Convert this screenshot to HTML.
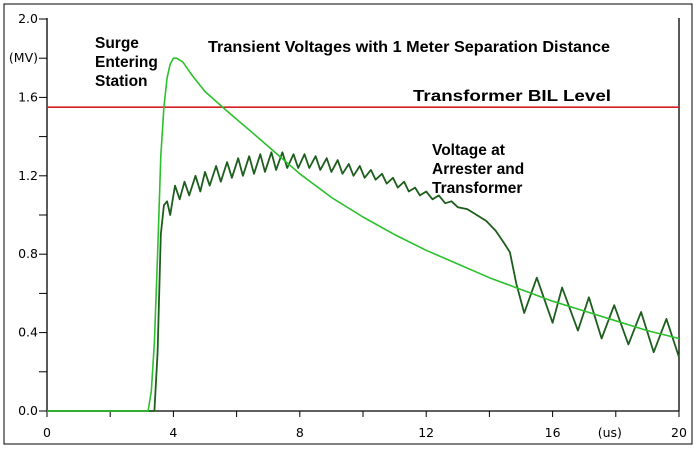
<!DOCTYPE html>
<html><head><meta charset="utf-8"><style>
body{margin:0;background:#fff;width:696px;height:449px;overflow:hidden}
svg{display:block}
.lb{font-family:"Liberation Sans",Arial,sans-serif;font-weight:bold;font-size:15.5px;fill:#000}
.tk{font-family:"DejaVu Sans",sans-serif;font-size:12.5px;fill:#000}
</style></head><body>
<svg id="chart" width="696" height="449">
<rect x="4" y="4" width="688" height="440" fill="none" stroke="#000" stroke-width="1"/>
<g id="axes"></g>
<g id="series"></g>
<text class="lb" x="95" y="48"><tspan x="95">Surge</tspan><tspan x="95" dy="19">Entering</tspan><tspan x="95" dy="19">Station</tspan></text>
<text class="lb" x="208" y="52" textLength="402" lengthAdjust="spacingAndGlyphs">Transient Voltages with 1 Meter Separation Distance</text>
<text class="lb" x="413" y="101" textLength="198" lengthAdjust="spacingAndGlyphs">Transformer BIL Level</text>
<text class="lb" x="432" y="155"><tspan x="432">Voltage at</tspan><tspan x="432" dy="19">Arrester and</tspan><tspan x="432" dy="19">Transformer</tspan></text>
</svg>
<script>
const xTicks=[0,2,4,6,8,10,12,14,16,18,20];
const xTickLabels=["0","","4","","8","","12","","16","(us)","20"];
const yTicks=[0,0.2,0.4,0.6,0.8,1.0,1.2,1.4,1.6,1.8,2.0];
const yTickLabels=["0.0","","0.4","","0.8","","1.2","","1.6","(MV)","2.0"];
const bilLevel=1.55;
const surgeT=[0,3.2,3.3,3.4,3.5,3.6,3.7,3.8,3.9,4.0,4.1,4.3,4.6,5.0,5.7,6.5,7.5,8,9,10,11,12,13,14,15,16,17,18,19,20];
const surgeV=[0,0,0.1,0.35,0.8,1.3,1.55,1.7,1.77,1.8,1.8,1.78,1.71,1.63,1.53,1.42,1.28,1.21,1.09,0.99,0.9,0.82,0.75,0.68,0.62,0.56,0.51,0.46,0.41,0.37];
const arrT=[0,3.4,3.5,3.6,3.7,3.8,3.9,4.05,4.2,4.35,4.5,4.7,4.85,5.0,5.15,5.35,5.5,5.7,5.85,6.05,6.2,6.4,6.55,6.75,6.9,7.1,7.25,7.45,7.6,7.8,7.95,8.15,8.3,8.5,8.65,8.85,9.0,9.2,9.35,9.55,9.7,9.9,10.05,10.25,10.4,10.6,10.75,10.95,11.1,11.3,11.45,11.65,11.8,12.0,12.2,12.4,12.6,12.8,13.0,13.3,13.6,13.9,14.2,14.45,14.65,14.85,15.1,15.5,16.0,16.3,16.8,17.15,17.55,17.95,18.4,18.8,19.2,19.6,20];
const arrV=[0,0,0.3,0.9,1.05,1.07,1.0,1.15,1.08,1.17,1.1,1.2,1.12,1.22,1.15,1.25,1.17,1.27,1.19,1.29,1.2,1.3,1.21,1.31,1.22,1.32,1.23,1.32,1.24,1.31,1.24,1.31,1.24,1.3,1.23,1.29,1.22,1.28,1.21,1.26,1.2,1.25,1.19,1.23,1.18,1.21,1.16,1.19,1.14,1.17,1.12,1.14,1.1,1.12,1.08,1.1,1.06,1.07,1.04,1.03,1.0,0.97,0.92,0.86,0.81,0.65,0.5,0.68,0.45,0.63,0.41,0.58,0.37,0.54,0.34,0.505,0.3,0.47,0.275];
const X0=47,X1=679,Y0=411,Y1=19;
const sx=t=>X0+(t-0)/(20-0)*(X1-X0);
const sy=v=>Y0-(v-0)/(2-0)*(Y0-Y1);
const NS="http://www.w3.org/2000/svg";
const ax=document.getElementById('axes'),se=document.getElementById('series');
function mk(tag,attrs,parent){const e=document.createElementNS(NS,tag);for(const k in attrs)e.setAttribute(k,attrs[k]);parent.appendChild(e);return e;}
let e=mk('line',{x1:X0,y1:Y1-1,x2:X0,y2:Y0,stroke:'#000','stroke-width':1.3},ax);


e=mk('line',{x1:X0,y1:Y0,x2:X1,y2:Y0,stroke:'#000','stroke-width':1.3},ax);


e=mk('line',{x1:X1,y1:Y1-1,x2:X1,y2:Y0,stroke:'#000','stroke-width':1.3},ax);


yTicks.forEach((v,i)=>{
 const t=mk('line',{x1:X0-8,y1:sy(v),x2:X0,y2:sy(v),stroke:'#000'},ax);
 
 
 if(yTickLabels[i]){const l=mk('text',{x:X0-9,y:sy(v)+4,'text-anchor':'end',class:'tk'},ax);l.textContent=yTickLabels[i];
 
 }
});
xTicks.forEach((v,i)=>{
 const t=mk('line',{x1:sx(v),y1:Y0,x2:sx(v),y2:Y0+6,stroke:'#000'},ax);
 
 
 if(xTickLabels[i]){const isU=xTickLabels[i]==='(us)';const l=mk('text',{x:sx(v)+(isU?-6:0),y:Y0+26,'text-anchor':'middle',class:'tk'},ax);l.textContent=xTickLabels[i];
 
 }
});
e=mk('line',{x1:X0,y1:sy(bilLevel),x2:X1,y2:sy(bilLevel),stroke:'#d42020','stroke-width':1.6},se);


function pts(T,V){return T.map((t,i)=>sx(t).toFixed(1)+','+sy(V[i]).toFixed(1)).join(' ');}
e=mk('polyline',{points:pts(arrT,arrV),fill:'none',stroke:'#1d5e1d','stroke-width':1.8,'stroke-linejoin':'round'},se);


e=mk('polyline',{points:pts(surgeT,surgeV),fill:'none',stroke:'#2cc02c','stroke-width':1.6,'stroke-linejoin':'round'},se);


</script>
</body></html>
